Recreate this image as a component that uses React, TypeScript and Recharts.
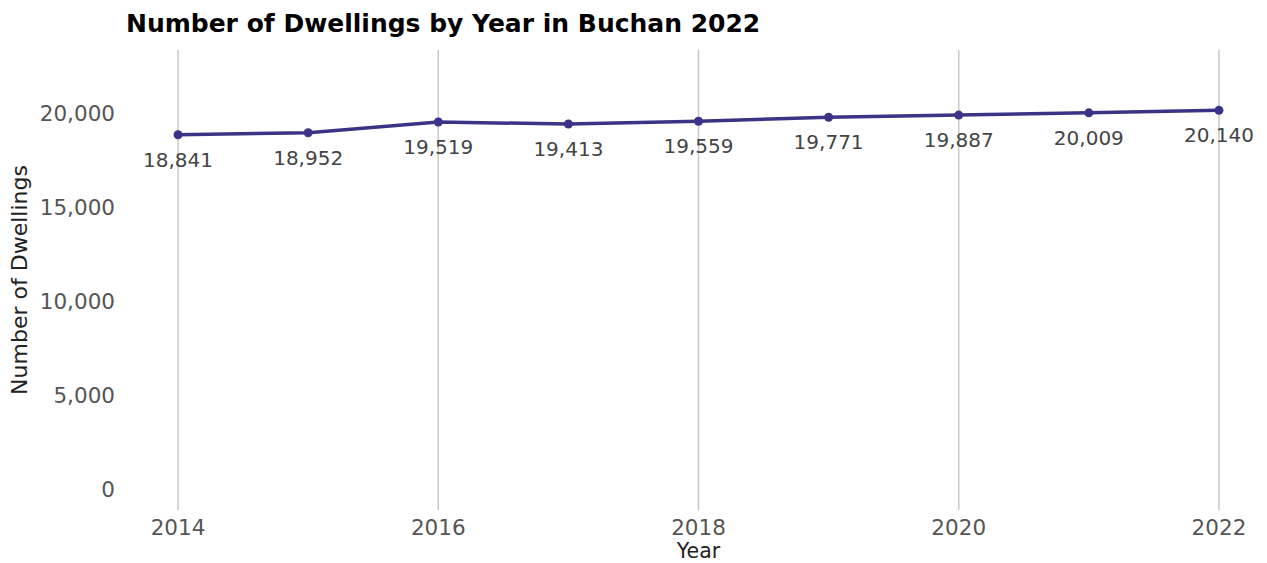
import React from "react"
import { LineChart, Line, XAxis, YAxis, ReferenceLine, LabelList } from "recharts"

const years = [2014, 2015, 2016, 2017, 2018, 2019, 2020, 2021, 2022]
const dwellings = [18841, 18952, 19519, 19413, 19559, 19771, 19887, 20009, 20140]
const yearTicks = [2014, 2016, 2018, 2020, 2022]
const countTicks = [0, 5000, 10000, 15000, 20000]

const data = years.map((year, i) => ({ year, dwellings: dwellings[i] }))

const font = "'DejaVu Sans', sans-serif"
const lineColor = "#3b3486"

const fmt = (v: number) => v.toLocaleString("en-US")

function PointLabel(props: any) {
  const { x, y, value } = props
  return (
    <text
      x={x}
      y={y + 25}
      textAnchor="middle"
      dominantBaseline="central"
      fill="#444"
      fontSize={20}
      fontFamily={font}
    >
      {fmt(value)}
    </text>
  )
}

function YearLabel(props: any) {
  const { viewBox } = props
  const { x, y, width } = viewBox
  return (
    <text
      x={x + width / 2}
      y={y + 41}
      textAnchor="middle"
      dominantBaseline="central"
      fill="#222"
      fontSize={20.5}
      fontFamily={font}
    >
      Year
    </text>
  )
}

export default function App() {
  return (
    <div
      style={{
        position: "absolute",
        left: 0,
        top: 0,
        width: 1267,
        height: 563,
        overflow: "hidden",
        background: "#fff",
        fontFamily: font,
      }}
    >
      <div
        style={{
          position: "absolute",
          left: 126,
          top: 9,
          fontSize: 25,
          fontWeight: "bold",
          color: "#000",
          whiteSpace: "nowrap",
          lineHeight: "30px",
        }}
      >
        Number of Dwellings by Year in Buchan 2022
      </div>
      <LineChart
        width={1271}
        height={563}
        data={data}
        margin={{ top: 50, right: 0, bottom: 0, left: 0 }}
      >
        {yearTicks.map((t) => (
          <ReferenceLine key={t} x={t} stroke="#c8c8c8" strokeWidth={1.5} />
        ))}
        <XAxis
          dataKey="year"
          type="number"
          domain={[2013.6, 2022.4]}
          ticks={yearTicks}
          allowDataOverflow
          axisLine={false}
          tickLine={false}
          height={53}
          tickMargin={4}
          tick={{ fill: "#555", fontSize: 21.5, fontFamily: font }}
          label={<YearLabel />}
        />
        <YAxis
          type="number"
          domain={[-1117, 23351]}
          ticks={countTicks}
          allowDataOverflow
          axisLine={false}
          tickLine={false}
          width={126}
          tickMargin={5}
          tickFormatter={fmt}
          tick={{ fill: "#555", fontSize: 21.5, fontFamily: font }}
          label={{
            value: "Number of Dwellings",
            angle: -90,
            position: "insideLeft",
            offset: 19,
            fill: "#222",
            fontSize: 22,
            fontFamily: font,
            style: { textAnchor: "middle" },
          }}
        />
        <Line
          type="linear"
          dataKey="dwellings"
          stroke={lineColor}
          strokeWidth={3.5}
          dot={{ r: 4.5, fill: lineColor, stroke: lineColor, strokeWidth: 0 }}
          activeDot={false}
          isAnimationActive={false}
        >
          <LabelList dataKey="dwellings" content={PointLabel} />
        </Line>
      </LineChart>
    </div>
  )
}
